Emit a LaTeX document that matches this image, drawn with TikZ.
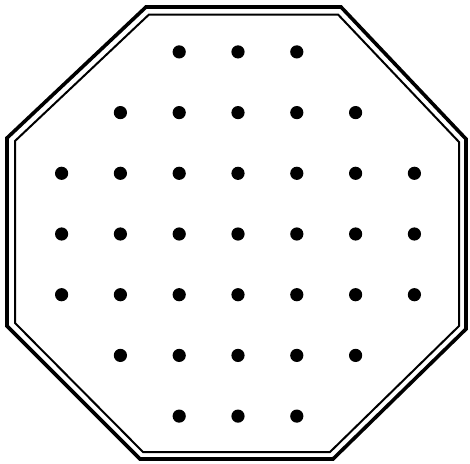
\documentclass[tikz,border=0pt]{standalone}
\usetikzlibrary{calc}
\newcommand{\holesize}{6.6pt}
\tikzset{
  board rim/.style={line width=3.6pt},
  board inner/.style={line width=2pt},
  hole/.style={fill=black}
}
\newcommand{\BoardHole}[2]{\fill[hole] ({#1},{#2}) circle (\holesize);}

\begin{document}
\begin{tikzpicture}[x=1pt,y=-1pt,line join=miter]
  \useasboundingbox (0,0) rectangle (470,463);
  % Outer rim of the octagonal board.
  \coordinate (o1) at (146,7);
  \coordinate (o2) at (341,7);
  \coordinate (o3) at (466,139);
  \coordinate (o4) at (466,329);
  \coordinate (o5) at (333,459);
  \coordinate (o6) at (140,459);
  \coordinate (o7) at (7,326);
  \coordinate (o8) at (7,138);
  \draw[board rim] (o1)--(o2)--(o3)--(o4)--(o5)--(o6)--(o7)--(o8)--cycle;

  % Inner rim, a little inside the outer one.
  \coordinate (i1) at (149,14.5);
  \coordinate (i2) at (338,14.5);
  \coordinate (i3) at (459,142);
  \coordinate (i4) at (459,326);
  \coordinate (i5) at (330,452);
  \coordinate (i6) at (143,452);
  \coordinate (i7) at (15,323);
  \coordinate (i8) at (15,141);
  \draw[board inner] (i1)--(i2)--(i3)--(i4)--(i5)--(i6)--(i7)--(i8)--cycle;

  % The 37 holes, row by row.
  \foreach \r/\a/\b in {1/3/5,2/2/6,3/1/7,4/1/7,5/1/7,6/2/6,7/3/5}
    \foreach \c in {\a,...,\b} {\BoardHole{238+(\c-4)*58.8}{234+(\r-4)*60.7}}
\end{tikzpicture}
\end{document}
